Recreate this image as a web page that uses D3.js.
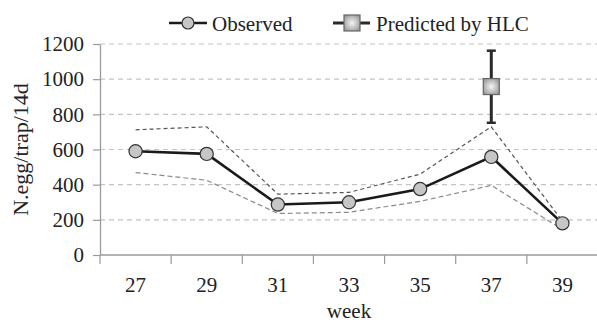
<!DOCTYPE html>
<html>
<head>
<meta charset="utf-8">
<script src="https://cdn.jsdelivr.net/npm/d3@7"></script>
<style>
  html, body { margin: 0; padding: 0; background: #fff; }
  svg { display: block; }
  svg text { font-family: "Liberation Serif", "Times New Roman", serif; fill: #222; }
</style>
</head>
<body>
<svg id="chart" width="597" height="322"></svg>
<script>
// Egg counts per trap over 14 days, by week
const weeks = ["27", "29", "31", "33", "35", "37", "39"];
const observed = [590, 575, 287, 300, 375, 558, 180];
const upperBound = [712, 729, 346, 356, 460, 729, 192];
const lowerBound = [469, 425, 236, 243, 305, 396, 146];

// HLC prediction for week 37 with its interval
const predictedWeek = "37";
const predicted = 958;
const predictedLow = 752;
const predictedHigh = 1162;

const yTicks = [0, 200, 400, 600, 800, 1000, 1200];

const svg = d3.select("#chart");
const margin = { left: 100, right: -1, top: 44, bottom: 67 };
const W = 597, H = 322;

const x = d3.scaleBand().domain(weeks).range([margin.left, W - margin.right]);
const y = d3.scaleLinear().domain([0, 1200]).range([H - margin.bottom, margin.top]);
const cx = d => x(d) + x.bandwidth() / 2;

// Horizontal grid
svg.append("g").selectAll("line").data(yTicks.filter(t => t > 0)).join("line")
  .attr("x1", margin.left).attr("x2", W)
  .attr("y1", d => y(d)).attr("y2", d => y(d))
  .attr("stroke", "#c4c4c4").attr("stroke-width", 1.2)
  .attr("stroke-dasharray", "5,4");

// Y axis
const yAxis = svg.append("g")
  .attr("transform", `translate(${margin.left},0)`)
  .call(d3.axisLeft(y).tickValues(yTicks).tickFormat(d3.format("d"))
    .tickSize(7).tickPadding(9).tickSizeOuter(0));
yAxis.attr("font-family", null).attr("font-size", null);
yAxis.select(".domain").attr("stroke", "#9a9a9a").attr("stroke-width", 1.3);
yAxis.selectAll(".tick line").attr("stroke", "#9a9a9a").attr("stroke-width", 1.2);
yAxis.selectAll(".tick text").attr("fill", null).style("font-size", "21px");

// X axis: ticks at category boundaries, labels centred in bands
const xg = svg.append("g").attr("transform", `translate(0,${y(0)})`);
xg.append("line").attr("x1", margin.left).attr("x2", W)
  .attr("stroke", "#9a9a9a").attr("stroke-width", 1.5);
xg.selectAll("line.tk").data(weeks).join("line").attr("class", "tk")
  .attr("x1", d => x(d)).attr("x2", d => x(d))
  .attr("y1", 0).attr("y2", 9)
  .attr("stroke", "#9a9a9a").attr("stroke-width", 1.2);
xg.selectAll("text").data(weeks).join("text")
  .attr("x", d => cx(d)).attr("y", 37)
  .attr("text-anchor", "middle").style("font-size", "21px")
  .text(d => d);

// Axis titles
svg.append("text").attr("x", cx("33")).attr("y", 318)
  .attr("text-anchor", "middle").style("font-size", "21px")
  .text("week");
svg.append("text")
  .attr("transform", `translate(28,${(y(0) + y(1200)) / 2}) rotate(-90)`)
  .attr("text-anchor", "middle").style("font-size", "22px")
  .text("N.egg/trap/14d");

// Bounds around the observed series
const line = d3.line().x((d, i) => cx(weeks[i])).y(d => y(d));
svg.append("path").datum(upperBound).attr("d", line)
  .attr("fill", "none").attr("stroke", "#555").attr("stroke-width", 1.2)
  .attr("stroke-dasharray", "4,3");
svg.append("path").datum(lowerBound).attr("d", line)
  .attr("fill", "none").attr("stroke", "#8a8a8a").attr("stroke-width", 1.2)
  .attr("stroke-dasharray", "5,3");

// Observed series
svg.append("path").datum(observed).attr("d", line)
  .attr("fill", "none").attr("stroke", "#1a1a1a").attr("stroke-width", 2.6);
svg.append("g").selectAll("circle").data(observed).join("circle")
  .attr("cx", (d, i) => cx(weeks[i])).attr("cy", d => y(d)).attr("r", 6.6)
  .attr("fill", "#c6c6c6").attr("stroke", "#333").attr("stroke-width", 1.2);

// Gradient fill for the prediction marker
const defs = svg.append("defs");
const grad = defs.append("radialGradient").attr("id", "sq").attr("cx", "50%").attr("cy", "50%").attr("r", "70%");
grad.append("stop").attr("offset", "0%").attr("stop-color", "#f4f4f4");
grad.append("stop").attr("offset", "100%").attr("stop-color", "#8a8a8a");

// Prediction with interval
const px = cx(predictedWeek);
const pg = svg.append("g");
pg.append("line").attr("x1", px).attr("x2", px)
  .attr("y1", y(predictedHigh)).attr("y2", y(predictedLow))
  .attr("stroke", "#2a2a2a").attr("stroke-width", 3);
[predictedHigh, predictedLow].forEach(v => {
  pg.append("line").attr("x1", px - 4.5).attr("x2", px + 4.5)
    .attr("y1", y(v)).attr("y2", y(v))
    .attr("stroke", "#2a2a2a").attr("stroke-width", 2.5);
});
pg.append("rect").attr("x", px - 8).attr("y", y(predicted) - 8)
  .attr("width", 16).attr("height", 16)
  .attr("fill", "url(#sq)").attr("stroke", "#666").attr("stroke-width", 1.2);

// Legend
const lg = svg.append("g");
lg.append("line").attr("x1", 169).attr("x2", 207).attr("y1", 23).attr("y2", 23)
  .attr("stroke", "#1a1a1a").attr("stroke-width", 2.4);
lg.append("circle").attr("cx", 188).attr("cy", 23).attr("r", 6)
  .attr("fill", "#c6c6c6").attr("stroke", "#333").attr("stroke-width", 1.2);
lg.append("text").attr("x", 212).attr("y", 31).style("font-size", "21px")
  .text("Observed");
lg.append("line").attr("x1", 333).attr("x2", 370).attr("y1", 23).attr("y2", 23)
  .attr("stroke", "#2a2a2a").attr("stroke-width", 3);
lg.append("rect").attr("x", 344).attr("y", 15).attr("width", 16).attr("height", 16)
  .attr("fill", "url(#sq)").attr("stroke", "#666").attr("stroke-width", 1.2);
lg.append("text").attr("x", 376).attr("y", 31).style("font-size", "21px")
  .text("Predicted by HLC");
</script>
</body>
</html>
